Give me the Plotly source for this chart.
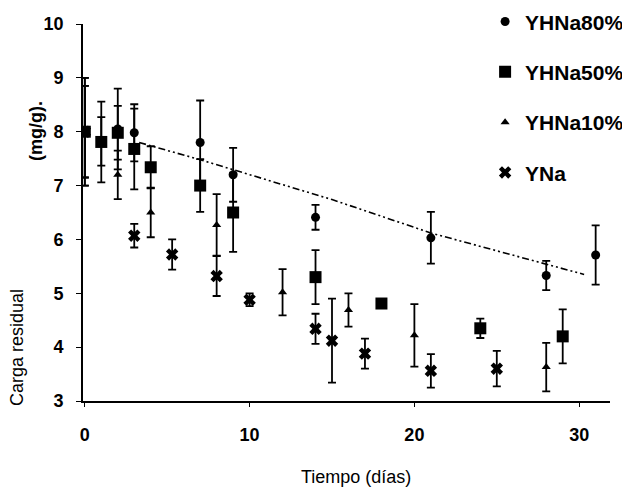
import plotly.graph_objects as go

# ---- data ----
x80 = [0, 1, 2, 3, 7, 9, 14, 21, 28, 31]
y80 = [8.0, 7.82, 8.05, 7.98, 7.8, 7.2, 6.41, 6.03, 5.33, 5.71]
e80 = [1.0, 0.45, 0.75, 0.53, 0.78, 0.5, 0.23, 0.48, 0.27, 0.55]

x50 = [0, 1, 2, 3, 4, 7, 9, 14, 18, 24, 29]
y50 = [8.0, 7.81, 7.98, 7.68, 7.34, 7.0, 6.5, 5.3, 4.81, 4.35, 4.2]
e50 = [0.85, 0.75, 0.5, 0.75, 0.39, 0.49, 0.73, 0.5, 0.08, 0.18, 0.5]

x10 = [0, 2, 4, 8, 12, 16, 20, 28]
y10 = [8.0, 7.2, 6.5, 6.27, 5.02, 4.69, 4.22, 3.63]
e10 = [0.85, 0.45, 0.46, 0.57, 0.43, 0.31, 0.58, 0.45]

xna = [0, 3, 5.3, 8, 10, 14, 15, 17, 21, 25]
yna = [8.0, 6.07, 5.72, 5.32, 4.88, 4.34, 4.12, 3.88, 3.56, 3.6]
ena = [1.0, 0.22, 0.28, 0.37, 0.12, 0.28, 0.78, 0.28, 0.31, 0.33]

trend_x = [3.3, 7, 15, 21, 30.3]
trend_y = [7.8, 7.48, 6.74, 6.12, 5.35]

names = ["YHNa80%", "YHNa50%", "YHNa10%", "YNa"]
x_ticks = [0, 10, 20, 30]
y_ticks = [3, 4, 5, 6, 7, 8, 9, 10]

ARIAL = "Liberation Sans, Arial, sans-serif"

fig = go.Figure()

fig.add_trace(go.Scatter(x=trend_x, y=trend_y, mode="lines", showlegend=False,
                         line=dict(color="black", width=1.6, dash="7px,3px,2px,3px,2px,3px")))

series = [
    (x80, y80, e80, "circle", 9),
    (x50, y50, e50, "square", 12),
    (x10, y10, e10, "triangle-up", 8),
    (xna, yna, ena, "x", 11),
]
for i, (xs, ys, es, sym, sz) in enumerate(series):
    fig.add_trace(go.Scatter(
        x=xs, y=ys, mode="markers", name=names[i], legendgroup=names[i],
        marker=dict(symbol=sym, size=sz, color="black"),
        error_y=dict(type="data", array=es, visible=True, color="black",
                     thickness=1.8, width=4),
    ))

# page body adds an 8px offset; the figure is sized/margined to compensate
fig.update_layout(
    width=622, height=487,
    margin=dict(l=75, r=20, t=16, b=94, autoexpand=False),
    paper_bgcolor="white", plot_bgcolor="white",
    showlegend=True,
    legend=dict(x=0.763, y=1.06, xanchor="left", yanchor="top",
                font=dict(family=ARIAL, size=21, color="black", weight="bold"),
                tracegroupgap=20, itemsizing="trace", bgcolor="rgba(0,0,0,0)"),
    xaxis=dict(range=[-0.11, 31.87], tickvals=x_ticks, showgrid=False, zeroline=False,
               showline=True, linecolor="black", linewidth=1.6, automargin=False,
               ticks="outside", ticklen=4, tickcolor="black",
               ticklabelstandoff=13,
               tickfont=dict(family=ARIAL, size=18, color="black", weight="bold")),
    yaxis=dict(range=[3, 10], tickvals=y_ticks, showgrid=False, zeroline=False,
               showline=True, linecolor="black", linewidth=1.6, automargin=False,
               ticks="outside", ticklen=5, tickcolor="black",
               ticklabelstandoff=9,
               tickfont=dict(family=ARIAL, size=18, color="black", weight="bold")),
    annotations=[
        dict(text="Tiempo (días)", xref="paper", yref="paper", x=0.518, y=-0.2016,
             xanchor="center", yanchor="middle",
             showarrow=False, font=dict(family=ARIAL, size=18, color="black")),
        dict(text="Carga residual", xref="paper", yref="paper", x=-0.125, y=0.1406,
             xanchor="center", yanchor="middle",
             textangle=-90, showarrow=False, font=dict(family=ARIAL, size=18, color="black")),
        dict(text="(mg/g).", xref="paper", yref="paper", x=-0.0892, y=0.716,
             xanchor="center", yanchor="middle",
             textangle=-90, showarrow=False,
             font=dict(family=ARIAL, size=18, color="black", weight="bold")),
    ],
)

fig.write_html("out.html")
